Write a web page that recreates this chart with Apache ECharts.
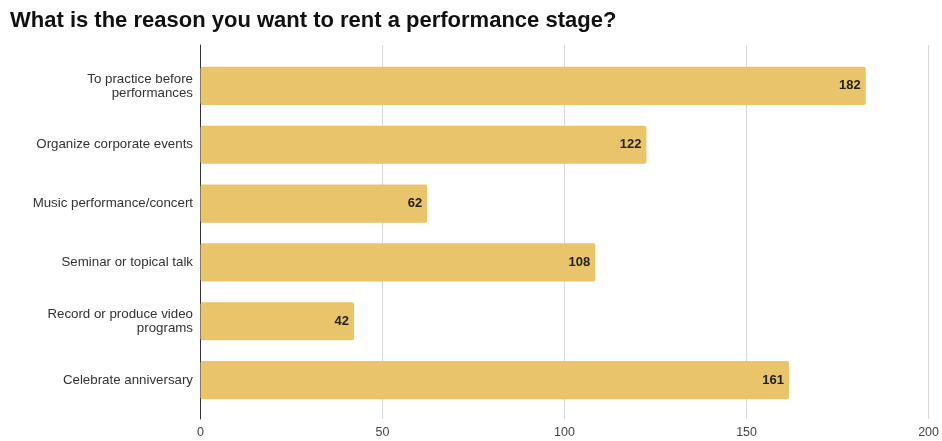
<!DOCTYPE html>
<html>
<head>
<meta charset="utf-8">
<script src="https://cdn.jsdelivr.net/npm/echarts@6/dist/echarts.min.js"></script>
<style>
  html, body { margin: 0; padding: 0; background: #fff; }
  #chart { width: 942px; height: 441px; }
</style>
</head>
<body>
<div id="chart"></div>
<script>
// Reasons for renting a performance stage and the number of respondents
const categories = [
  'To practice before\nperformances',
  'Organize corporate events',
  'Music performance/concert',
  'Seminar or topical talk',
  'Record or produce video\nprograms',
  'Celebrate anniversary'
];
const counts = [182, 122, 62, 108, 42, 161];
const xTicks = { min: 0, max: 200, interval: 50 };

const chart = echarts.init(document.getElementById('chart'));
const font = 'Liberation Sans, Arial, sans-serif';

chart.setOption({
  animation: false,
  title: {
    text: 'What is the reason you want to rent a performance stage?',
    left: 5, top: 5,
    textStyle: { fontFamily: font, fontSize: 22, fontWeight: 'bold', color: '#111' }
  },
  grid: [
    // frame: gridlines, value labels and left axis line
    { left: 200.5, right: 10.5, top: 45, bottom: 22 },
    // bars
    { left: 200.5, right: 10.5, top: 56.5, bottom: 31.5 }
  ],
  xAxis: [
    {
      gridIndex: 0, type: 'value',
      min: xTicks.min, max: xTicks.max, interval: xTicks.interval,
      axisLine: { show: false }, axisTick: { show: false },
      splitLine: { lineStyle: { color: '#d9d9d9', width: 1 } },
      axisLabel: { color: '#444', fontFamily: font, fontSize: 12.5, margin: 7 }
    },
    {
      gridIndex: 1, type: 'value',
      min: xTicks.min, max: xTicks.max,
      show: false, splitLine: { show: false }
    }
  ],
  yAxis: [
    {
      gridIndex: 0, type: 'value', min: 0, max: 1,
      axisLine: { show: true, lineStyle: { color: '#333', width: 1 } },
      axisLabel: { show: false }, axisTick: { show: false }, splitLine: { show: false }
    },
    {
      gridIndex: 1, type: 'category', data: categories, inverse: true,
      axisLine: { show: false }, axisTick: { show: false },
      axisLabel: {
        color: '#333', fontFamily: font, fontSize: 13.3, lineHeight: 14,
        align: 'right', margin: 7.5
      }
    }
  ],
  series: [{
    type: 'bar',
    xAxisIndex: 1, yAxisIndex: 1,
    data: counts,
    barCategoryGap: '35%',
    itemStyle: { color: '#E9C46A', borderRadius: 2 },
    label: {
      show: true, position: 'insideRight', distance: 5,
      color: '#222', fontFamily: font, fontSize: 13, fontWeight: 'bold'
    }
  }]
});
</script>
</body>
</html>
